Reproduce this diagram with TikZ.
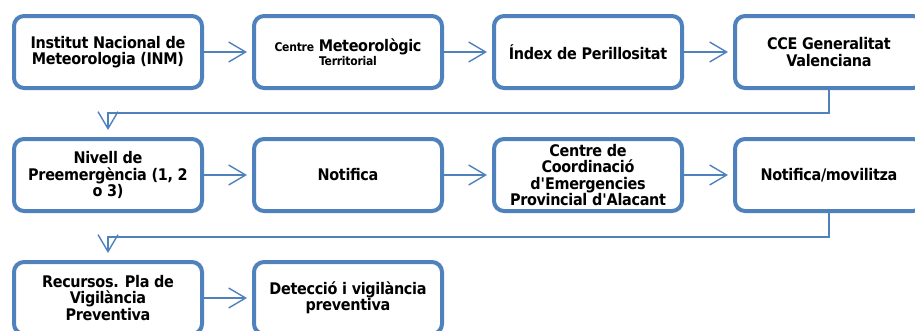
\documentclass[tikz,border=0pt]{standalone}
\usepackage{fontspec}
\setmainfont{DejaVu Sans Condensed}[LetterSpace=-2]
\usetikzlibrary{arrows.meta}
\definecolor{bx}{HTML}{4F81BD}
\begin{document}
\begin{tikzpicture}[x=1pt,y=-1pt,
 box/.style={draw=bx, line width=4pt, rounded corners=10pt, fill=white,
   minimum width=188pt, minimum height=72pt, align=center,
   font=\bfseries\fontsize{16}{16.5}\selectfont, inner sep=0pt},
 conn/.style={draw=bx, line width=1.4pt,
   -{Straight Barb[length=17pt,width=20pt,line width=1.4pt]}, shorten >=5pt}]
\useasboundingbox (0,0) rectangle (915,330);
% row 1
\node[box] (a1) at (108,52) {Institut Nacional de\\Meteorologia (INM)};
\node[box] (a2) at (348,52) {{\fontsize{12}{14}\selectfont Centre} Meteorològic\\[-3pt]{\fontsize{12}{14}\selectfont Territorial}};
\node[box] (a3) at (588,52) {Índex de Perillositat};
\node[box] (a4) at (829,52) {CCE Generalitat\\Valenciana};
% row 2
\node[box] (b1) at (108,175) {Nivell de\\Preemergència (1, 2\\o 3)};
\node[box] (b2) at (348,175) {Notifica};
\node[box] (b3) at (588,175) {Centre de\\Coordinació\\d\textquotesingle Emergencies\\Provincial d\textquotesingle Alacant};
\node[box] (b4) at (829,175) {Notifica/movilitza};
% row 3
\node[box] (c1) at (108,298) {Recursos. Pla de\\Vigilància\\Preventiva};
\node[box] (c2) at (348,298) {Detecció i vigilància\\preventiva};
% connectors
\draw[conn] (a1.east) -- (a2.west);
\draw[conn] (a2.east) -- (a3.west);
\draw[conn] (a3.east) -- (a4.west);
\draw[conn, shorten >=7pt] (a4.south) -- ++(0,23) -| (b1.north);
\draw[conn] (b1.east) -- (b2.west);
\draw[conn] (b2.east) -- (b3.west);
\draw[conn] (b3.east) -- (b4.west);
\draw[conn, shorten >=7pt] (b4.south) -- ++(0,24) -| (c1.north);
\draw[conn] (c1.east) -- (c2.west);
\end{tikzpicture}
\end{document}
